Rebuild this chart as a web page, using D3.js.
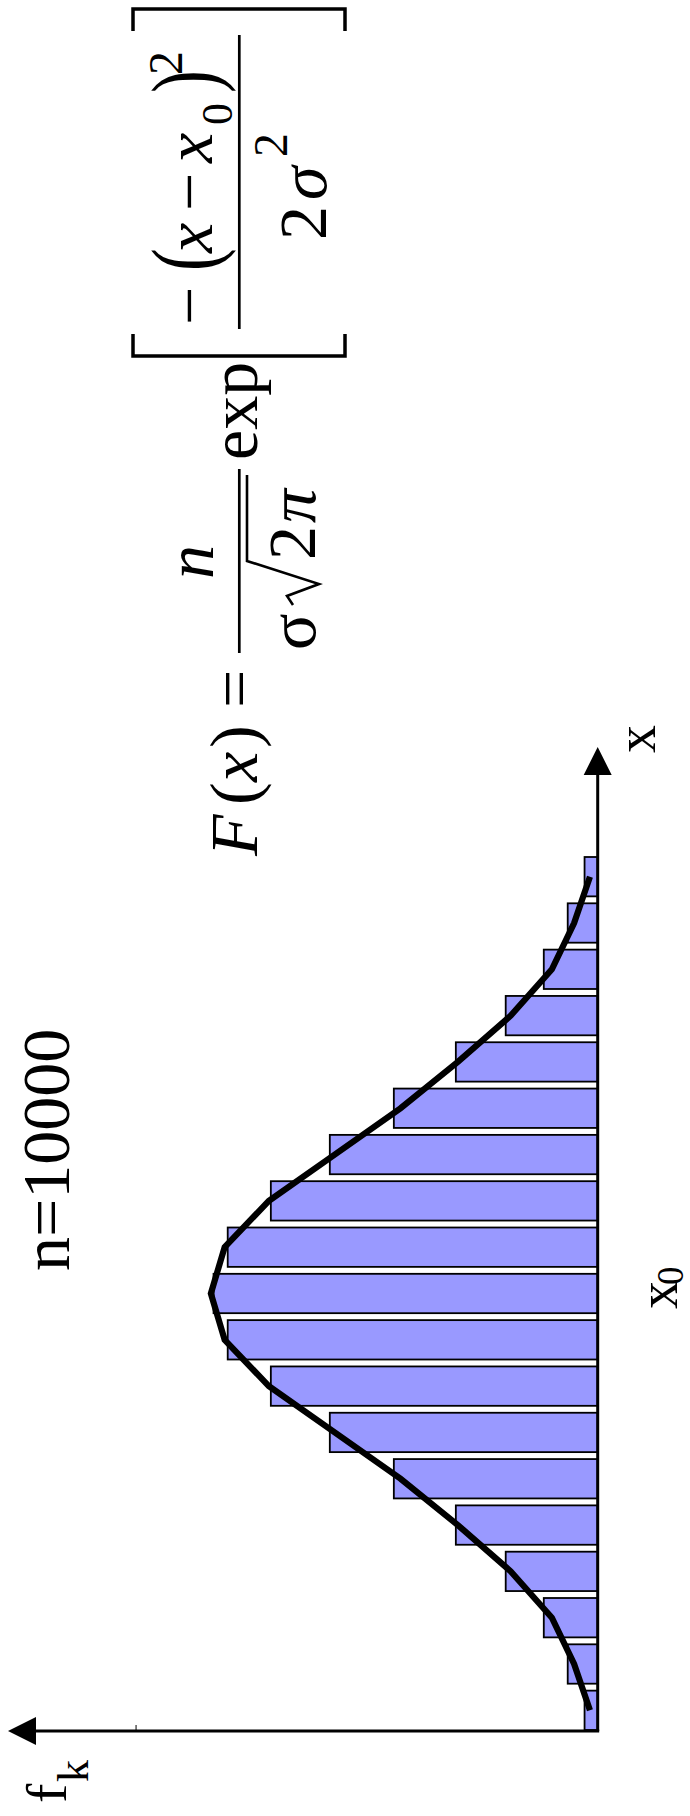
<!DOCTYPE html>
<html>
<head>
<meta charset="utf-8">
<script src="https://cdn.jsdelivr.net/npm/d3@7"></script>
<style>
  html, body { margin: 0; padding: 0; background: #fff; }
  svg { display: block; }
</style>
</head>
<body>
<script>
// Histogram of n = 10000 measurements, classes around x0, with the fitted normal curve
const binIndex = [-9, -8, -7, -6, -5, -4, -3, -2, -1, 0, 1, 2, 3, 4, 5, 6, 7, 8, 9];
const counts   = [39, 89, 160, 273, 421, 605, 795, 970, 1098, 1140, 1098, 970, 795, 605, 421, 273, 160, 89, 39];
const fitted   = [23, 70, 136, 258, 415, 585, 780, 976, 1107, 1148, 1107, 976, 780, 585, 415, 258, 136, 70, 23];
const fTicks   = [1370];
const fMax     = 1750;

const W = 690, H = 1816;
const svg = d3.select("body").append("svg").attr("width", W).attr("height", H);
svg.append("rect").attr("width", W).attr("height", H).attr("fill", "#fff");

// The whole figure is laid out landscape and turned a quarter turn
const g = svg.append("g")
  .attr("transform", `translate(0,${H}) rotate(-90)`)
  .attr("font-family", "'Liberation Serif', 'Times New Roman', serif")
  .attr("fill", "#000");

const x = d3.scaleBand().domain(binIndex).range([86, 959]).paddingInner(0.15).paddingOuter(0);
const f = d3.scaleLinear().domain([0, fMax]).range([597.7, 8]);
const originU = 85;
const axisEndU = 1069;

// bars
g.append("g").selectAll("rect").data(binIndex).join("rect")
  .attr("x", d => x(d))
  .attr("width", x.bandwidth())
  .attr("y", (d, i) => f(counts[i]))
  .attr("height", (d, i) => f(0) - f(counts[i]))
  .attr("fill", "#9999ff")
  .attr("stroke", "#000")
  .attr("stroke-width", 1.8);

// fitted curve through class centres
const line = d3.line()
  .x(d => x(d.k) + x.bandwidth() / 2)
  .y(d => f(d.v));
g.append("path")
  .datum(binIndex.map((k, i) => ({ k, v: fitted[i] })))
  .attr("d", line)
  .attr("fill", "none")
  .attr("stroke", "#000")
  .attr("stroke-width", 6.2)
  .attr("stroke-linejoin", "miter");

// axes with arrow heads
const ax = g.append("g").attr("stroke", "#000").attr("stroke-width", 3);
ax.append("line").attr("x1", originU).attr("x2", axisEndU - 20).attr("y1", f(0)).attr("y2", f(0));
ax.append("line").attr("x1", originU).attr("x2", originU).attr("y1", f(0) + 1.5).attr("y2", f(fMax) + 20);
g.append("path")
  .attr("d", `M${axisEndU},${f(0)} L${axisEndU - 28},${f(0) - 14} L${axisEndU - 28},${f(0) + 14} Z`);
g.append("path")
  .attr("d", `M${originU},${f(fMax)} L${originU - 14},${f(fMax) + 28} L${originU + 14},${f(fMax) + 28} Z`);
g.append("g").selectAll("line").data(fTicks).join("line")
  .attr("x1", originU).attr("x2", originU + 6)
  .attr("y1", d => f(d)).attr("y2", d => f(d))
  .attr("stroke", "#000").attr("stroke-width", 1);

// labels
function txt(u, v, s, size, italic) {
  return g.append("text").attr("x", u).attr("y", v)
    .attr("font-size", size)
    .attr("font-style", italic ? "italic" : "normal")
    .text(s);
}
// tall, thin bracket glyph
function tall(u, v, s, size, stretch) {
  return g.append("text")
    .attr("transform", `translate(${u},${v}) scale(1,${stretch})`)
    .attr("font-size", size)
    .text(s);
}
txt(1063, 655, "x", 56);
txt(507, 677, "x", 56);
txt(531, 683, "0", 37);
txt(13, 66, "f", 58);
txt(34, 88, "k", 44);
txt(545, 69, "n=10000", 68);

// formula F(x) = n / (σ√2π) · exp[ −(x − x0)² / 2σ² ]
txt(960, 257, "F", 68, true);
txt(1011, 257, "(", 68);
txt(1034, 257, "x", 68, true);
txt(1068, 257, ")", 68);
txt(1108, 257, "=", 68);
g.append("line").attr("x1", 1163).attr("x2", 1347).attr("y1", 239.3).attr("y2", 239.3)
  .attr("stroke", "#000").attr("stroke-width", 2.7);
txt(1254, 213, "n", 68, true).attr("text-anchor", "middle");
txt(1166, 315, "σ", 68);
g.append("path")
  .attr("d", "M1211,293 L1220,287 L1232,319 L1255,247 L1341,247")
  .attr("fill", "none").attr("stroke", "#000").attr("stroke-width", 2.6)
  .attr("stroke-linejoin", "miter");
txt(1256, 315, "2", 68);
txt(1293, 315, "π", 68, true);
txt(1356, 257, "exp", 68);

// square brackets
const br = g.append("g").attr("fill", "none").attr("stroke", "#000").attr("stroke-width", 3.5);
br.append("path").attr("d", "M1482,133 L1460,133 L1460,345 L1482,345");
br.append("path").attr("d", "M1785,133 L1807,133 L1807,345 L1785,345");
g.append("line").attr("x1", 1487).attr("x2", 1781).attr("y1", 239.3).attr("y2", 239.3)
  .attr("stroke", "#000").attr("stroke-width", 2.7);

// numerator
txt(1491, 212, "\u2212", 68);
tall(1545, 216, "(", 68, 1.38);
txt(1563, 212, "x", 68, true);
txt(1605, 212, "\u2212", 68);
txt(1653, 212, "x", 68, true);
txt(1691, 232, "0", 44);
tall(1723, 216, ")", 68, 1.38);
txt(1741, 182, "2", 48);

// denominator
txt(1576, 326, "2", 68);
txt(1616, 326, "σ", 68, true);
txt(1659, 287, "2", 48);
</script>
</body>
</html>
